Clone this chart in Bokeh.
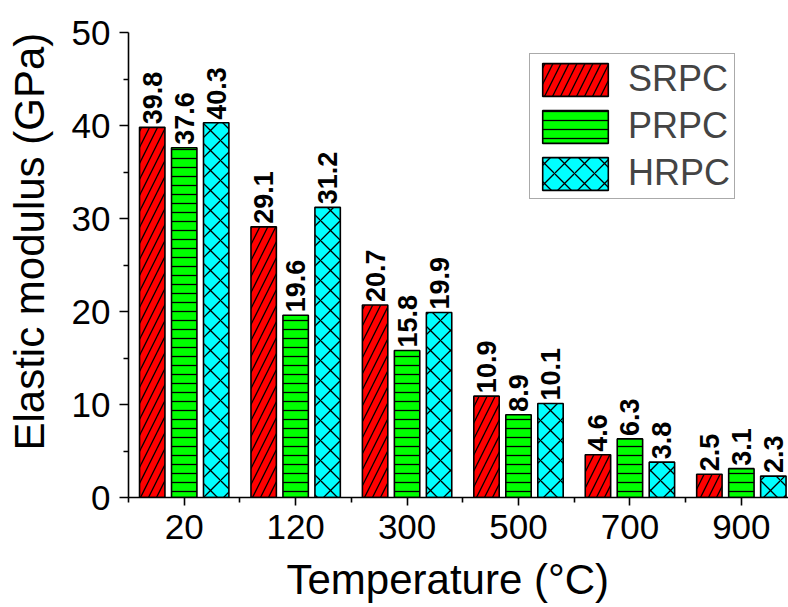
import math
from bokeh.plotting import figure
from bokeh.models import FixedTicker, Legend, LegendItem, Range1d, Title, LinearAxis
from bokeh.core.properties import value
from bokeh.embed import file_html
from bokeh.resources import INLINE

# ---- data ----
temperatures = ["20", "120", "300", "500", "700", "900"]
srpc = [39.8, 29.1, 20.7, 10.9, 4.6, 2.5]
prpc = [37.6, 19.6, 15.8, 8.9, 6.3, 3.1]
hrpc = [40.3, 31.2, 19.9, 10.1, 3.8, 2.3]
series_names = ["SRPC", "PRPC", "HRPC"]
y_ticks = [0, 10, 20, 30, 40, 50]
y_minor = [5, 15, 25, 35, 45]

# ---- style ----
FONT = "Liberation Sans"
colors = ["#FF0000", "#00FF00", "#00FFFF"]
hatches = ["/", "-", "x"]
hatch_scales = [16, 9, 20]
offsets = [-0.287, 0.0, 0.287]
bar_width = 0.228

p = figure(width=788, height=607, output_backend="svg", toolbar_location=None,
           x_range=Range1d(-0.5, 5.423), y_range=Range1d(0, 50),
           min_border_left=127, min_border_right=0, min_border_top=32,
           min_border_bottom=110)
p.outline_line_color = None
p.xgrid.visible = False
p.ygrid.visible = False
p.background_fill_color = "white"
p.border_fill_color = "white"

idx = list(range(len(temperatures)))
items = []
for name, vals, col, hp, hs, off in zip(series_names, [srpc, prpc, hrpc], colors,
                                        hatches, hatch_scales, offsets):
    xs = [i + off for i in idx]
    r = p.vbar(x=xs, top=vals, bottom=0, width=bar_width, fill_color=col,
               line_color="black", line_width=1.6, hatch_pattern=hp,
               hatch_color="black", hatch_scale=hs, hatch_weight=1.3)
    items.append(LegendItem(label=name, renderers=[r]))
    p.text(x=xs, y=vals, text=[f"{v:.1f}" for v in vals], angle=math.pi / 2,
           text_align="left", text_baseline="middle", y_offset=-3,
           text_font=value(FONT), text_font_style="bold",
           text_font_size="27px", text_color="black")

legend = Legend(items=items, location=(401, 298), glyph_width=82, glyph_height=41,
                spacing=5, padding=4, label_standoff=12, margin=0,
                label_text_font=FONT, label_text_font_size="36px",
                border_line_color="#555555", border_line_width=1,
                background_fill_color="white", background_fill_alpha=1)
p.add_layout(legend)

# axes
for ax in (p.xaxis[0], p.yaxis[0]):
    ax.axis_line_width = 1.6
    ax.axis_line_color = "black"
    ax.major_tick_line_width = 1.6
    ax.minor_tick_line_width = 1.6
    ax.major_tick_line_color = "black"
    ax.minor_tick_line_color = "black"
    ax.major_tick_in = 0
    ax.minor_tick_in = 0
    ax.minor_tick_out = 5
    ax.major_label_text_font = FONT
    ax.major_label_text_font_size = "35px"
    ax.major_label_text_color = "black"

p.xaxis.ticker = FixedTicker(ticks=idx, minor_ticks=[i - 0.5 for i in idx] + [len(idx) - 0.5])
p.xaxis.major_label_overrides = {i: t for i, t in zip(idx, temperatures)}
p.xaxis.major_tick_out = 8
p.xaxis.major_label_standoff = 9

p.yaxis.ticker = FixedTicker(ticks=y_ticks, minor_ticks=y_minor)
p.yaxis.major_tick_out = 9
p.yaxis.major_label_standoff = 9


def gap_axis(size):
    """An invisible axis used only as a spacer between an axis and its title."""
    return LinearAxis(ticker=FixedTicker(ticks=[0], minor_ticks=[]),
                      major_label_overrides={0: ""},
                      major_label_text_font_size="0px",
                      axis_line_color=None, major_tick_line_color=None,
                      minor_tick_line_color=None, major_tick_in=0,
                      major_tick_out=size, minor_tick_in=0, minor_tick_out=0,
                      major_label_standoff=0)


p.add_layout(gap_axis(14), "below")
p.add_layout(gap_axis(13), "left")

# axis titles (side titles, start-aligned with an offset as in the reference)
xt = Title(text="Temperature (°C)", align="left", offset=158, vertical_align="top",
           text_font=FONT, text_font_size="42px", text_font_style="normal",
           text_color="black")
xt.standoff = 0
p.add_layout(xt, "below")
yt = Title(text="Elastic modulus (GPa)", align="left", offset=47, vertical_align="bottom",
           text_font=FONT, text_font_size="42px", text_font_style="normal",
           text_color="black")
yt.standoff = 6
p.add_layout(yt, "left")

open("out.html", "w").write(file_html(p, INLINE))
